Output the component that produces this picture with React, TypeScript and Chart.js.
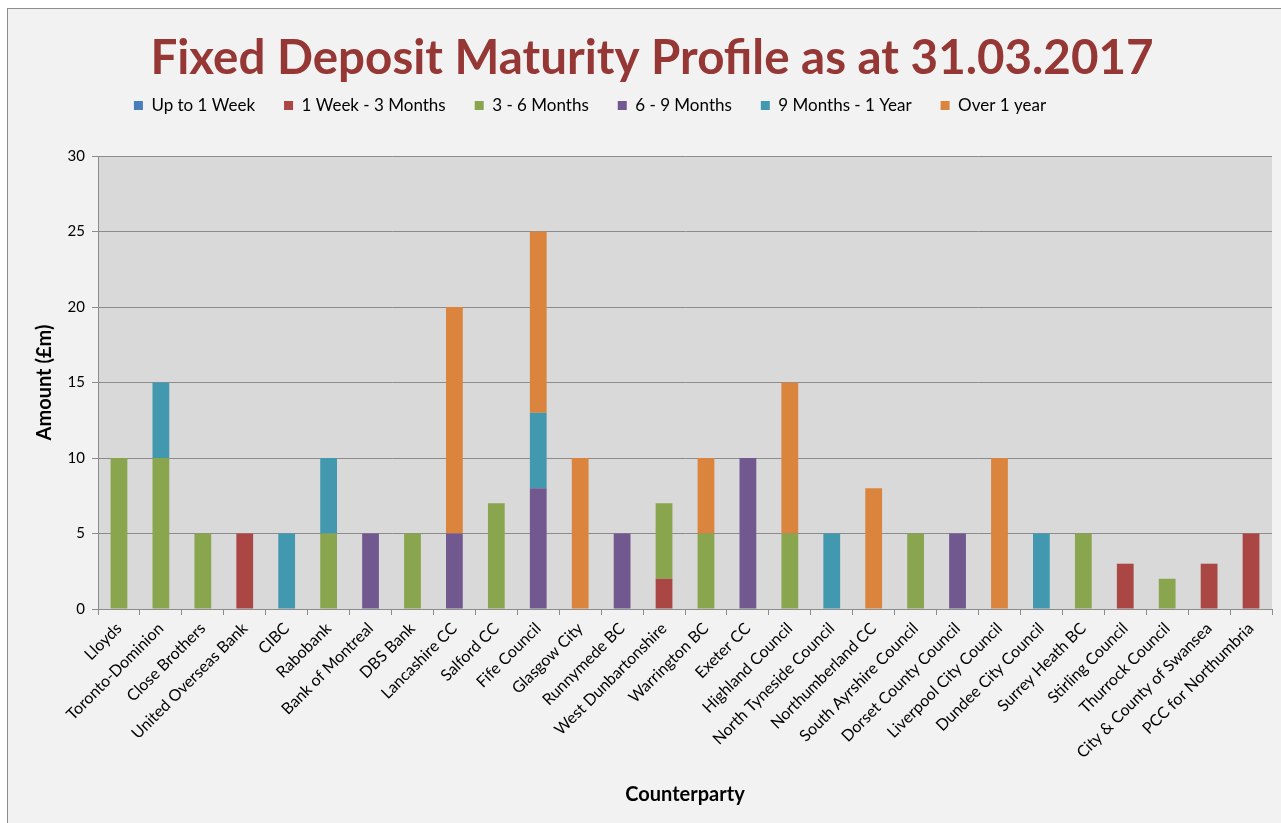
import React, { useEffect, useRef } from "react";
import { Chart, registerables } from "chart.js";

Chart.register(...registerables);

const categories = [
  "Lloyds",
  "Toronto-Dominion",
  "Close Brothers",
  "United Overseas Bank",
  "CIBC",
  "Rabobank",
  "Bank of Montreal",
  "DBS Bank",
  "Lancashire CC",
  "Salford CC",
  "Fife Council",
  "Glasgow City",
  "Runnymede BC",
  "West Dunbartonshire",
  "Warrington BC",
  "Exeter CC",
  "Highland Council",
  "North Tyneside Council",
  "Northumberland CC",
  "South Ayrshire Council",
  "Dorset County Council",
  "Liverpool City Council",
  "Dundee City Council",
  "Surrey Heath BC",
  "Stirling Council",
  "Thurrock Council",
  "City & County of Swansea",
  "PCC for Northumbria",
];

const upTo1Week = [0, 0, 0, 0, 0, 0, 0, 0, 0, 0, 0, 0, 0, 0, 0, 0, 0, 0, 0, 0, 0, 0, 0, 0, 0, 0, 0, 0];
const week1To3Months = [0, 0, 0, 5, 0, 0, 0, 0, 0, 0, 0, 0, 0, 2, 0, 0, 0, 0, 0, 0, 0, 0, 0, 0, 3, 0, 3, 5];
const months3To6 = [10, 10, 5, 0, 0, 5, 0, 5, 0, 7, 0, 0, 0, 5, 5, 0, 5, 0, 0, 5, 0, 0, 0, 5, 0, 2, 0, 0];
const months6To9 = [0, 0, 0, 0, 0, 0, 5, 0, 5, 0, 8, 0, 5, 0, 0, 10, 0, 0, 0, 0, 5, 0, 0, 0, 0, 0, 0, 0];
const months9To1Year = [0, 5, 0, 0, 5, 5, 0, 0, 0, 0, 5, 0, 0, 0, 0, 0, 0, 5, 0, 0, 0, 0, 5, 0, 0, 0, 0, 0];
const over1Year = [0, 0, 0, 0, 0, 0, 0, 0, 15, 0, 12, 10, 0, 0, 5, 0, 10, 0, 8, 0, 0, 10, 0, 0, 0, 0, 0, 0];

const seriesNames = [
  "Up to 1 Week",
  "1 Week - 3 Months",
  "3 - 6 Months",
  "6 - 9 Months",
  "9 Months - 1 Year",
  "Over 1 year",
];
const seriesColors = ["#4a7ebb", "#aa4643", "#89a54e", "#71588f", "#4198af", "#db843d"];

const yTicks = [0, 5, 10, 15, 20, 25, 30];

const FONT = "Lato, 'Liberation Sans', sans-serif";

const plotBg = {
  id: "plotBg",
  beforeDraw(chart: any) {
    const { ctx, chartArea } = chart;
    if (!chartArea) return;
    ctx.save();
    ctx.fillStyle = "#d9d9d9";
    ctx.fillRect(chartArea.left, chartArea.top, chartArea.right - chartArea.left, chartArea.bottom - chartArea.top);
    ctx.restore();
  },
};

// nudge title / legend blocks to the places they occupy in the original
const shiftBlocks = {
  id: "shiftBlocks",
  afterLayout(chart: any) {
    const lg = chart.legend;
    if (lg) {
      lg.left += -50;
      lg.right += -50;
      lg.top += -32;
      lg.bottom += -32;
    }
    const tb = chart.titleBlock;
    if (tb) {
      tb.left += 12;
      tb.right += 12;
    }
  },
};

export default function App() {
  const ref = useRef<HTMLCanvasElement | null>(null);

  useEffect(() => {
    if (!ref.current) return;
    const allSeries = [upTo1Week, week1To3Months, months3To6, months6To9, months9To1Year, over1Year];
    const chart = new Chart(ref.current, {
      type: "bar",
      data: {
        labels: categories,
        datasets: allSeries.map((d, i) => ({
          label: seriesNames[i],
          data: d,
          backgroundColor: seriesColors[i],
          borderWidth: 0,
          barPercentage: 0.4,
          categoryPercentage: 1.0,
        })),
      },
      options: {
        responsive: false,
        animation: false,
        layout: { padding: { left: 0, right: 16, top: 0, bottom: 0 } },
        plugins: {
          title: {
            display: true,
            text: "Fixed Deposit Maturity Profile as at 31.03.2017",
            color: "#953735",
            font: { family: FONT, size: 47.5, weight: "bold" },
            padding: { top: 21, bottom: 13 },
          },
          legend: {
            display: true,
            position: "top",
            labels: {
              color: "#000",
              font: { family: FONT, size: 17 },
              boxWidth: 9,
              boxHeight: 9,
              padding: 29,
            },
          },
          tooltip: { enabled: false },
        },
        scales: {
          x: {
            stacked: true,
            grid: {
              display: true,
              drawOnChartArea: false,
              drawTicks: true,
              tickLength: 6,
              color: "#8c8c8c",
              offset: true,
            },
            border: { display: true, color: "#8c8c8c", width: 1 },
            ticks: {
              autoSkip: false,
              maxRotation: 45,
              minRotation: 45,
              color: "#000",
              font: { family: FONT, size: 16 },
              padding: 4,
            },
            title: {
              display: true,
              text: "Counterparty",
              color: "#000",
              font: { family: FONT, size: 20, weight: "bold" },
              padding: { top: 12, bottom: 12 },
            },
            afterFit: (s: any) => {
              s.height = 210;
            },
          },
          y: {
            stacked: true,
            min: 0,
            max: 30,
            afterBuildTicks: (s: any) => {
              s.ticks = yTicks.map((v) => ({ value: v }));
            },
            grid: {
              color: "#8c8c8c",
              drawTicks: true,
              tickLength: 6,
            },
            border: { display: true, color: "#8c8c8c", width: 1 },
            ticks: {
              color: "#000",
              font: { family: FONT, size: 15 },
              padding: 7,
            },
            title: {
              display: true,
              text: "Amount (£m)",
              color: "#000",
              font: { family: FONT, size: 20, weight: "bold" },
              padding: { top: 25, bottom: 0 },
            },
            afterFit: (s: any) => {
              s.width = 90;
            },
          },
        },
      },
      plugins: [plotBg, shiftBlocks],
    });
    return () => chart.destroy();
  }, []);

  return (
    <div
      style={{
        position: "fixed",
        left: 7,
        top: 8,
        width: 1290,
        height: 840,
        border: "1px solid #8c8c8c",
        background: "#f2f2f2",
      }}
    >
      <canvas ref={ref} width={1280} height={810} style={{ display: "block" }} />
    </div>
  );
}
